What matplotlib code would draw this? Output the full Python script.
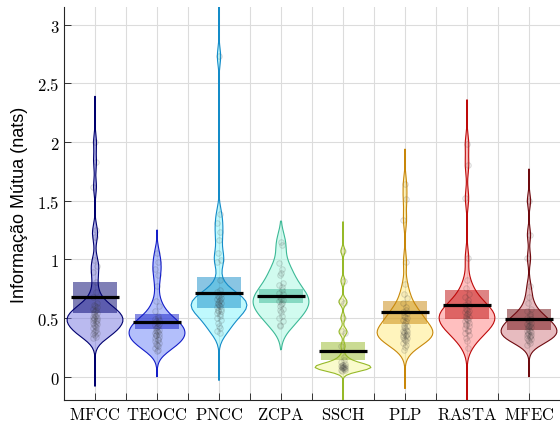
import numpy as np
import matplotlib
matplotlib.use("Agg")
import matplotlib.pyplot as plt
from matplotlib.patches import Rectangle

plt.rcParams["mathtext.fontset"] = "cm"

categories = ["MFCC", "TEOCC", "PNCC", "ZCPA", "SSCH", "PLP", "RASTA", "MFEC"]

mfcc = [2.00, 1.83, 1.62, 1.25, 1.19, 0.99, 0.94, 0.89, 0.81, 0.72, 0.68,
        0.63, 0.61, 0.60, 0.59, 0.58, 0.57, 0.56, 0.55, 0.54, 0.53, 0.52, 0.52, 0.51, 0.50,
        0.50, 0.49, 0.48, 0.48, 0.47, 0.46, 0.46, 0.45, 0.44, 0.43, 0.42, 0.41, 0.40, 0.39,
        0.38, 0.37, 0.36, 0.35, 0.34, 0.33]
teocc = [1.05, 0.98, 0.92, 0.87, 0.77, 0.64, 0.60, 0.56,
         0.52, 0.50, 0.49, 0.48, 0.47, 0.46, 0.45, 0.44, 0.43, 0.42, 0.41, 0.40, 0.39, 0.385,
         0.38, 0.37, 0.36, 0.355, 0.35, 0.34, 0.33, 0.32, 0.31, 0.30, 0.29, 0.28, 0.27, 0.26,
         0.245, 0.23, 0.215]
pncc = [2.73, 1.39, 1.31, 1.235, 1.165, 1.05, 0.99, 0.98, 0.82, 0.74,
        0.72, 0.70, 0.69, 0.68, 0.67, 0.66, 0.65, 0.64, 0.63, 0.63, 0.62, 0.61, 0.60, 0.59,
        0.58, 0.57, 0.56, 0.555, 0.54, 0.53, 0.52, 0.50, 0.48, 0.456, 0.43, 0.414, 0.39, 0.37]
zcpa = [1.15, 1.12, 0.966, 0.92, 0.88, 0.866, 0.80, 0.78, 0.76, 0.74, 0.71, 0.70, 0.68,
        0.66, 0.654, 0.64, 0.626, 0.62, 0.60, 0.58, 0.57, 0.55, 0.52, 0.50, 0.47, 0.44, 0.427]
ssch = [1.07, 0.815, 0.645, 0.63, 0.50, 0.39, 0.375, 0.26, 0.17, 0.14, 0.12, 0.11, 0.10,
        0.095, 0.09, 0.09, 0.085, 0.08, 0.08, 0.075, 0.07, 0.07, 0.065, 0.06, 0.055, 0.05]
plp = [1.645, 1.51, 1.334, 0.98, 0.79, 0.705, 0.668, 0.626,
       0.59, 0.57, 0.55, 0.54, 0.52, 0.51, 0.50, 0.484, 0.47, 0.456, 0.44, 0.43, 0.42,
       0.414, 0.40, 0.39, 0.385, 0.38, 0.37, 0.36, 0.355, 0.35, 0.342, 0.335, 0.33, 0.32,
       0.314, 0.30, 0.29, 0.272, 0.25, 0.23]
rasta = [1.985, 1.80, 1.52, 1.01, 0.824, 0.754, 0.70, 0.68,
         0.654, 0.63, 0.61, 0.60, 0.58, 0.57, 0.56, 0.55, 0.54, 0.53, 0.52, 0.51, 0.50,
         0.49, 0.484, 0.47, 0.46, 0.45, 0.44, 0.427, 0.41, 0.40, 0.385, 0.37, 0.35, 0.33,
         0.30, 0.245]
mfec = [1.50, 1.21, 1.01, 0.77, 0.68, 0.626,
        0.58, 0.555, 0.53, 0.52, 0.50, 0.49, 0.484, 0.47, 0.46, 0.45, 0.44, 0.43, 0.427,
        0.42, 0.41, 0.40, 0.39, 0.385, 0.38, 0.37, 0.36, 0.355, 0.35, 0.342, 0.335, 0.33,
        0.32, 0.31, 0.30, 0.29, 0.272]
samples = [mfcc, teocc, pncc, zcpa, ssch, plp, rasta, mfec]

# summary statistics per feature set: mean and its interval
means = [0.68, 0.467, 0.711, 0.688, 0.215, 0.55, 0.609, 0.49]
ci_low = [0.546, 0.405, 0.584, 0.631, 0.139, 0.447, 0.49, 0.40]
ci_high = [0.807, 0.535, 0.847, 0.748, 0.295, 0.648, 0.739, 0.578]

# range over which each density estimate is evaluated
kde_low = [-0.08, 0.0, -0.03, 0.23, -0.3, -0.1, -0.3, 0.0]
kde_high = [2.39, 1.25, 3.3, 1.325, 1.32, 1.94, 2.36, 1.77]

edge_colors = ["#00006e", "#141ec8", "#148cc8", "#3cb996", "#96b928", "#c8870a", "#be0a0a", "#6e0a0f"]
fill_colors = ["#7777e1", "#6981f9", "#81f5fd", "#a5f9e1", "#f5f99b", "#ffeb7d", "#ff8181", "#d17981"]

VIOLIN_HALF = 0.45
BOX_HALF = 0.355
MEAN_HALF = 0.39


def kde_profile(data, lo, hi, npts=100):
    x = np.asarray(data, dtype=float)
    n = x.size
    med = np.median(x)
    sig = np.median(np.abs(x - med)) / 0.6745
    bw = sig * (4.0 / (3.0 * n)) ** 0.2
    grid = np.linspace(lo, hi, npts)
    dens = np.exp(-0.5 * ((grid[:, None] - x[None, :]) / bw) ** 2).sum(axis=1)
    return grid, dens / dens.max()


fig = plt.figure(figsize=(5.6, 4.27), dpi=100)
ax = fig.add_axes([0.1143, 0.0609, 0.8857, 0.9201])

for i, (data, ec, fc) in enumerate(zip(samples, edge_colors, fill_colors)):
    pos = i + 1
    yy, dd = kde_profile(data, kde_low[i], kde_high[i])
    w = dd * VIOLIN_HALF
    ax.fill_betweenx(yy, pos - w, pos + w, facecolor=fc, alpha=0.5, lw=0, zorder=2)
    ax.add_patch(Rectangle((pos - BOX_HALF, ci_low[i]), 2 * BOX_HALF, ci_high[i] - ci_low[i],
                           facecolor=ec, alpha=0.5, lw=0, zorder=3))
    vals = np.asarray(data)
    k = np.arange(vals.size)
    jit = 0.03 * np.sin(k * 2.399)
    ax.scatter(pos + jit, vals, s=16, facecolor=(0.35, 0.35, 0.35, 0.06),
               edgecolor=(0.2, 0.2, 0.2, 0.16), lw=0.7, zorder=4)
    ax.plot(np.r_[pos - w, (pos + w)[::-1], pos - w[0]], np.r_[yy, yy[::-1], yy[0]],
            color=ec, lw=0.8, zorder=5)
    ax.plot([pos - MEAN_HALF, pos + MEAN_HALF], [means[i], means[i]], color="black",
            lw=2.3, solid_capstyle="butt", zorder=6)

ax.set_xlim(0.5, 8.5)
ax.set_ylim(-0.2, 3.15)
ax.set_xticks(np.arange(1, 9))
ax.set_xticks(np.arange(1.5, 8.0, 1.0), minor=True)
ax.set_xticklabels([rf"$\mathrm{{{c}}}$" for c in categories], fontsize=12)
yt = [0, 0.5, 1, 1.5, 2, 2.5, 3]
ax.set_yticks(yt)
ax.set_yticklabels([rf"${v:g}$" for v in yt], fontsize=12)
ax.tick_params(axis="both", which="both", direction="in", length=5, width=0.7, color="#333333")
ax.grid(True, which="both", color="#dcdcdc", lw=0.8)
ax.set_axisbelow(True)
for s in ["top", "right"]:
    ax.spines[s].set_visible(False)
for s in ["left", "bottom"]:
    ax.spines[s].set_color("#262626")
    ax.spines[s].set_linewidth(0.8)
ax.set_ylabel("Informação Mútua (nats)", family="Liberation Sans", fontsize=13, labelpad=6)

fig.savefig("out.png", dpi=100)
